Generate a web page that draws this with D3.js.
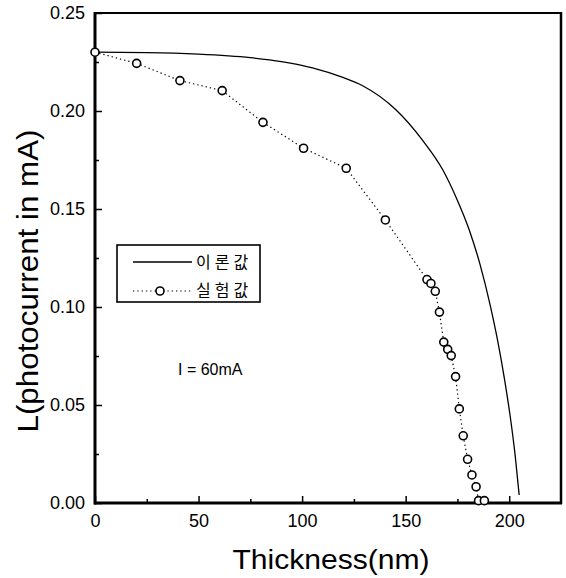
<!DOCTYPE html>
<html>
<head>
<meta charset="utf-8">
<script src="https://cdn.jsdelivr.net/npm/d3@7"></script>
<style>
  html, body { margin: 0; padding: 0; background: #fff; }
  svg { display: block; }
  text { font-family: "Liberation Sans", Arial, sans-serif; fill: #000; }
  .kr { font-family: "Noto Sans CJK KR", "Noto Sans", sans-serif; }
</style>
</head>
<body>
<svg id="chart" width="566" height="578"></svg>
<script>
// Theoretical curve (이론값): thickness (nm) vs L (mA)
const theoryThickness = [0, 25, 50, 75, 90, 105, 120, 129, 145.4, 158.2, 167.9, 174.9, 180.7, 186.0, 190.8, 194.2, 197.6, 200.5, 202.9, 204.8];
const theoryL        = [0.2300, 0.2298, 0.2290, 0.2272, 0.2252, 0.2220, 0.2170, 0.2130, 0.2005, 0.1850, 0.1700, 0.1546, 0.1393, 0.1214, 0.1010, 0.0840, 0.0640, 0.0440, 0.0240, 0.0041];

// Experimental values (실험값)
const expThickness = [0, 20.1, 41, 61.4, 81.1, 100.7, 121.3, 140.2, 160.3, 162.2, 164.3, 166.3, 168.4, 170.3, 172.0, 174.1, 175.9, 177.8, 179.9, 182.0, 184.0, 185.2, 188.0];
const expL         = [0.230, 0.2243, 0.2155, 0.2104, 0.1942, 0.1810, 0.1708, 0.1444, 0.1140, 0.1120, 0.1080, 0.0974, 0.0821, 0.0784, 0.0752, 0.0645, 0.0480, 0.0343, 0.0223, 0.0143, 0.0083, 0.0012, 0.0012];

const xMajorTicks = [0, 50, 100, 150, 200];
const xMinorTicks = [25, 75, 125, 175];
const yMajorTicks = [0, 0.05, 0.10, 0.15, 0.20, 0.25];
const yMinorTicks = [0.025, 0.075, 0.125, 0.175, 0.225];
const legendLabels = ["이론값", "실험값"];
const annotation = "I = 60mA";
const xTitle = "Thickness(nm)";
const yTitle = "L(photocurrent in mA)";

const svg = d3.select("#chart");
const L = 95, R = 561, T = 13, B = 503;

const x = d3.scaleLinear().domain([0, 225]).range([L, R]);
const y = d3.scaleLinear().domain([0, 0.25]).range([B, T]);

// Axes (ticks inward)
const gx = svg.append("g").attr("transform", `translate(0,${B})`)
  .call(d3.axisBottom(x).tickValues(xMajorTicks).tickSize(-7).tickPadding(11).tickFormat(d3.format("d")));
const gxm = svg.append("g").attr("transform", `translate(0,${B})`)
  .call(d3.axisBottom(x).tickValues(xMinorTicks).tickSize(-4).tickFormat(""));
const gy = svg.append("g").attr("transform", `translate(${L},0)`)
  .call(d3.axisLeft(y).tickValues(yMajorTicks).tickSize(-7).tickPadding(10).tickFormat(d3.format(".2f")));
const gym = svg.append("g").attr("transform", `translate(${L},0)`)
  .call(d3.axisLeft(y).tickValues(yMinorTicks).tickSize(-4).tickFormat(""));

[gx, gxm, gy, gym].forEach(g => {
  g.select(".domain").remove();
  g.selectAll(".tick line").attr("stroke", "#000").attr("stroke-width", 1.5);
  g.selectAll(".tick text").style("font-size", "18px").attr("fill", "#000")
    .style("font-family", "'Liberation Sans', Arial, sans-serif");
});
gx.selectAll(".tick text").attr("dy", "0.71em");

// Frame
svg.append("rect").attr("x", L).attr("y", T).attr("width", R - L).attr("height", B - T)
  .attr("fill", "none").attr("stroke", "#000").attr("stroke-width", 2);
svg.append("line").attr("x1", L).attr("x2", L).attr("y1", T - 1).attr("y2", B + 1.5)
  .attr("stroke", "#000").attr("stroke-width", 3);
svg.append("line").attr("x1", L - 1).attr("x2", R + 1).attr("y1", B).attr("y2", B)
  .attr("stroke", "#000").attr("stroke-width", 3);
svg.append("line").attr("x1", R).attr("x2", R).attr("y1", T - 1).attr("y2", B + 1)
  .attr("stroke", "#000").attr("stroke-width", 2.5);

// Theory line
const theory = theoryThickness.map((t, i) => [t, theoryL[i]]);
svg.append("path").datum(theory)
  .attr("fill", "none").attr("stroke", "#000").attr("stroke-width", 1.3)
  .attr("d", d3.line().x(d => x(d[0])).y(d => y(d[1])).curve(d3.curveMonotoneX));

// Experimental dotted line + circles
const exp = expThickness.map((t, i) => [t, expL[i]]);
svg.append("path").datum(exp)
  .attr("fill", "none").attr("stroke", "#000").attr("stroke-width", 1.2)
  .attr("stroke-dasharray", "1.3,3")
  .attr("d", d3.line().x(d => x(d[0])).y(d => y(d[1])));
svg.append("g").selectAll("circle").data(exp).join("circle")
  .attr("cx", d => x(d[0])).attr("cy", d => y(d[1])).attr("r", 4)
  .attr("fill", "#fff").attr("stroke", "#000").attr("stroke-width", 1.6);

// Legend
const lg = svg.append("g");
lg.append("rect").attr("x", 117).attr("y", 245).attr("width", 143).attr("height", 57)
  .attr("fill", "#fff").attr("stroke", "#000").attr("stroke-width", 1.6);
lg.append("line").attr("x1", 133).attr("x2", 192).attr("y1", 262).attr("y2", 262)
  .attr("stroke", "#000").attr("stroke-width", 1.3);
lg.append("line").attr("x1", 133).attr("x2", 192).attr("y1", 291).attr("y2", 291)
  .attr("stroke", "#000").attr("stroke-width", 1.2).attr("stroke-dasharray", "1.3,3");
lg.append("circle").attr("cx", 160).attr("cy", 291).attr("r", 4)
  .attr("fill", "#fff").attr("stroke", "#000").attr("stroke-width", 1.6);
lg.selectAll("text.kr").data(legendLabels).join("text").attr("class", "kr")
  .attr("x", 196).attr("y", (d, i) => 268 + i * 28)
  .style("font-size", "16px").style("letter-spacing", "4px")
  .text(d => d);

// Annotation
svg.append("text").attr("x", 178).attr("y", 375).style("font-size", "16px").text(annotation);

// Axis titles
svg.append("text").attr("x", 331).attr("y", 569).attr("text-anchor", "middle")
  .style("font-size", "27px").attr("textLength", 197).attr("lengthAdjust", "spacingAndGlyphs")
  .text(xTitle);
svg.append("text").attr("transform", "translate(38,281) rotate(-90)").attr("text-anchor", "middle")
  .style("font-size", "29px").attr("textLength", 303).attr("lengthAdjust", "spacingAndGlyphs")
  .text(yTitle);
</script>
</body>
</html>
